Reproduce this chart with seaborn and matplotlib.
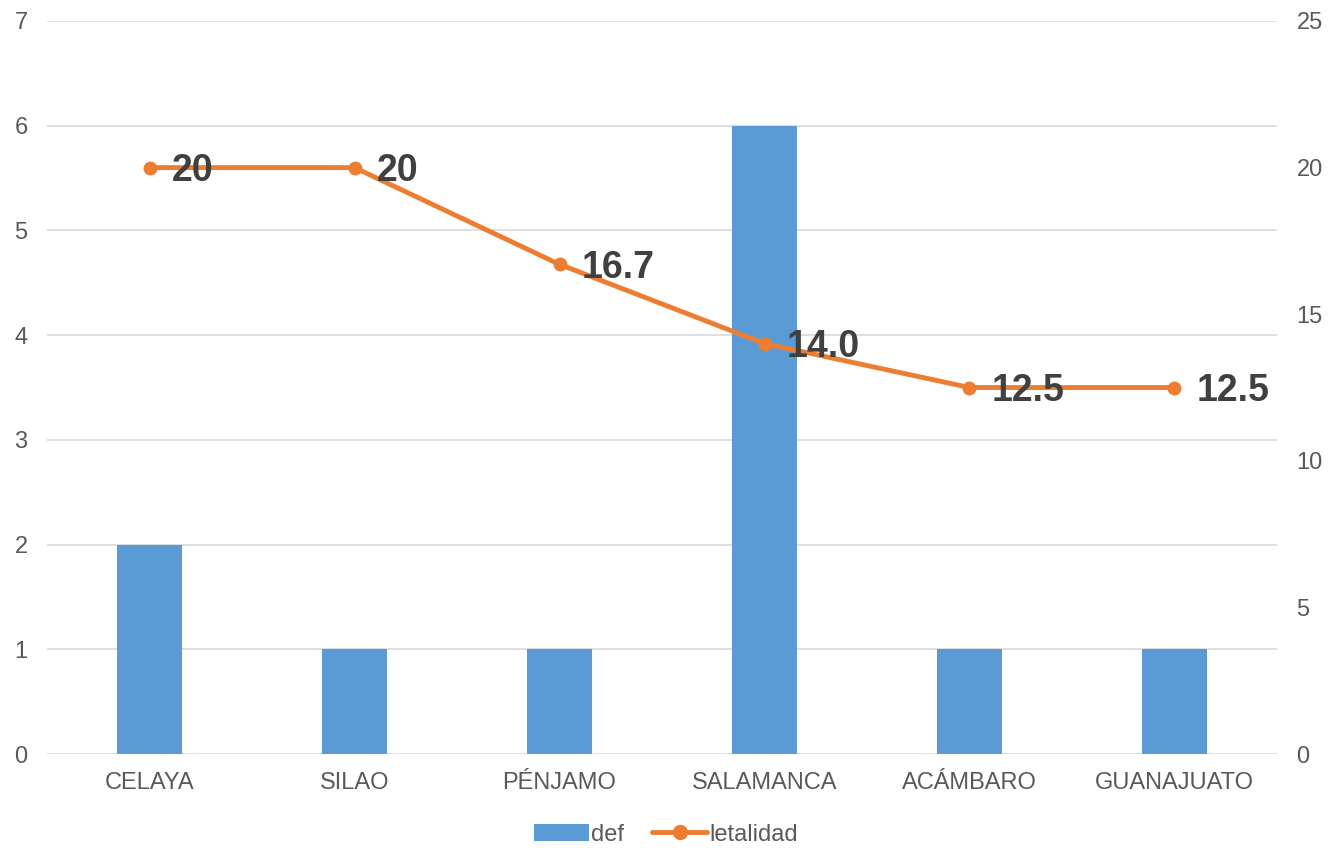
import numpy as np
import pandas as pd
import seaborn as sns
import matplotlib.pyplot as plt
from matplotlib.patches import Patch
from matplotlib.lines import Line2D

municipios = ['CELAYA', 'SILAO', 'PÉNJAMO', 'SALAMANCA', 'ACÁMBARO', 'GUANAJUATO']
defunciones = [2, 1, 1, 6, 1, 1]
letalidad = [20, 20, 16.7, 14.0, 12.5, 12.5]
etiquetas = ['20', '20', '16.7', '14.0', '12.5', '12.5']

azul = '#5B9BD5'
naranja = '#ED7D31'
gris_txt = '#595959'

sns.set_style("white")
plt.rcParams['font.family'] = ['Liberation Sans', 'DejaVu Sans']

df = pd.DataFrame({'municipio': municipios, 'def': defunciones, 'letalidad': letalidad})

fig = plt.figure(figsize=(13.32, 8.5), dpi=100)
ax1 = fig.add_axes([0.0353, 0.1129, 0.9234, 0.8624])

# barras: defunciones (eje izquierdo)
sns.barplot(data=df, x='municipio', y='def', color=azul, width=0.315,
            saturation=1, linewidth=0, ax=ax1, zorder=2)
ax1.set_ylim(0, 7)
ax1.set_yticks(range(0, 8))
ax1.set_xlim(-0.5, 5.5)
ax1.yaxis.grid(True, color='#D9D9D9', linewidth=1.2, zorder=0)
ax1.set_axisbelow(True)
ax1.set_xlabel('')
ax1.set_ylabel('')
for s in ax1.spines.values():
    s.set_visible(False)
ax1.tick_params(axis='both', length=0, labelsize=17, colors=gris_txt)
ax1.tick_params(axis='y', pad=14)
ax1.tick_params(axis='x', pad=13)

# linea: letalidad (eje derecho)
ax2 = ax1.twinx()
x_pos = np.arange(len(municipios))
sns.lineplot(x=x_pos, y=letalidad, color=naranja, linewidth=3.5, marker='o',
             markersize=10, markeredgewidth=0, ax=ax2, zorder=3)
ax2.set_ylim(0, 25)
ax2.set_yticks(range(0, 30, 5))
ax2.set_xlim(-0.5, 5.5)
for s in ax2.spines.values():
    s.set_visible(False)
ax2.tick_params(axis='y', length=0, labelsize=17, colors=gris_txt, pad=14)

for xi, yi, lab in zip(x_pos, letalidad, etiquetas):
    ax2.annotate(lab, (xi, yi), xytext=(16, -2.5), textcoords='offset points',
                 ha='left', va='center', fontsize=27, fontweight='bold',
                 color='#404040', zorder=4)

handles = [Patch(facecolor=azul, edgecolor='none'),
           Line2D([0], [0], color=naranja, linewidth=3.5, marker='o', markersize=10)]
fig.legend(handles, ['def', 'letalidad'], loc='center', bbox_to_anchor=(0.5, 0.018),
           ncol=2, frameon=False, fontsize=17, labelcolor=gris_txt,
           handlelength=2.3, handletextpad=0.1, columnspacing=1.2)

fig.savefig('out.png', dpi=100)
